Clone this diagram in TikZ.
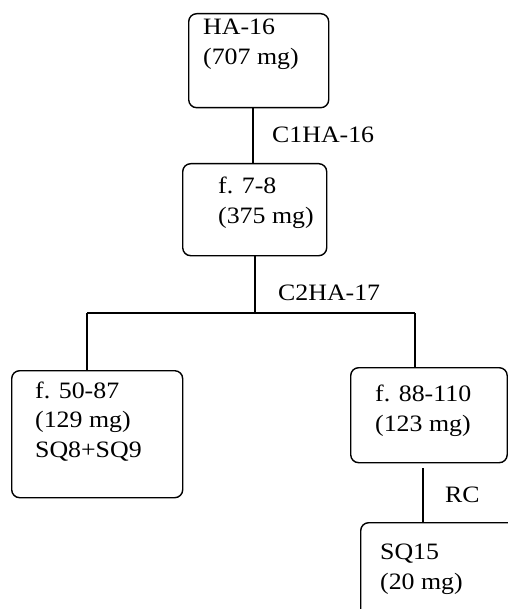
\documentclass[tikz,border=0pt]{standalone}
\usepackage{fontspec}
\setmainfont{Liberation Serif}[FakeStretch=1.1]
\begin{document}
\begin{tikzpicture}[x=1pt,y=-1pt,
  fbox/.style={draw, rounded corners=8pt, line width=1.4pt, inner sep=0pt,
    anchor=north west},
  % multi-line texts are placed by the baseline of their last line
  txt/.style={anchor=base west, inner sep=0pt, align=left,
    font=\fontsize{23.5}{29.5}\selectfont},
  lbl/.style={anchor=base west, inner sep=0pt,
    font=\fontsize{23.5}{29.5}\selectfont},
  link/.style={line width=1.4pt}]
\useasboundingbox (0,0) rectangle (507,609);

% fraction boxes
\node[fbox, minimum width=140pt, minimum height=94pt]  (ha)   at (188,13)  {};
\node[fbox, minimum width=144pt, minimum height=92pt]  (f78)  at (182,163) {};
\node[fbox, minimum width=171pt, minimum height=127pt] (f50)  at (11,370)  {};
\node[fbox, minimum width=156.5pt, minimum height=95pt] (f88) at (350,367) {};
\node[fbox, minimum width=160pt, minimum height=110pt] (sq15) at (360,522) {};

% box contents
\node[txt] (hat)   at (203,64.5)  {HA-16\\(707 mg)};
\node[txt] (f78t)  at (218,223.5) {f. 7-8\\(375 mg)};
\node[txt] (f50t)  at (35,457)    {f. 50-87\\(129 mg)\\SQ8+SQ9};
\node[txt] (f88t)  at (375,431)   {f. 88-110\\(123 mg)};
\node[txt] (sq15t) at (380,589)   {SQ15\\(20 mg)};

% column labels
\node[lbl] (c1) at (272,143) {C1HA-16};
\node[lbl] (c2) at (278,300) {C2HA-17};
\node[lbl] (rc) at (445,502) {RC};

% connector columns
\coordinate (xa) at (253,0);
\coordinate (j)  at (255,313);
\coordinate (jl) at (87,313);
\coordinate (jr) at (415,313);
\coordinate (xr) at (423,0);

\draw[link] (ha.south -| xa) -- (f78.north -| xa);
\draw[link] (f78.south -| j) -- (j);
\draw[link] (jl) -- (jr);
\draw[link] (jl) -- (jl |- f50.north);
\draw[link] (jr) -- (jr |- f88.north);
\draw[link, shorten <=5pt] (f88.south -| xr) -- (sq15.north -| xr);
\end{tikzpicture}
\end{document}
